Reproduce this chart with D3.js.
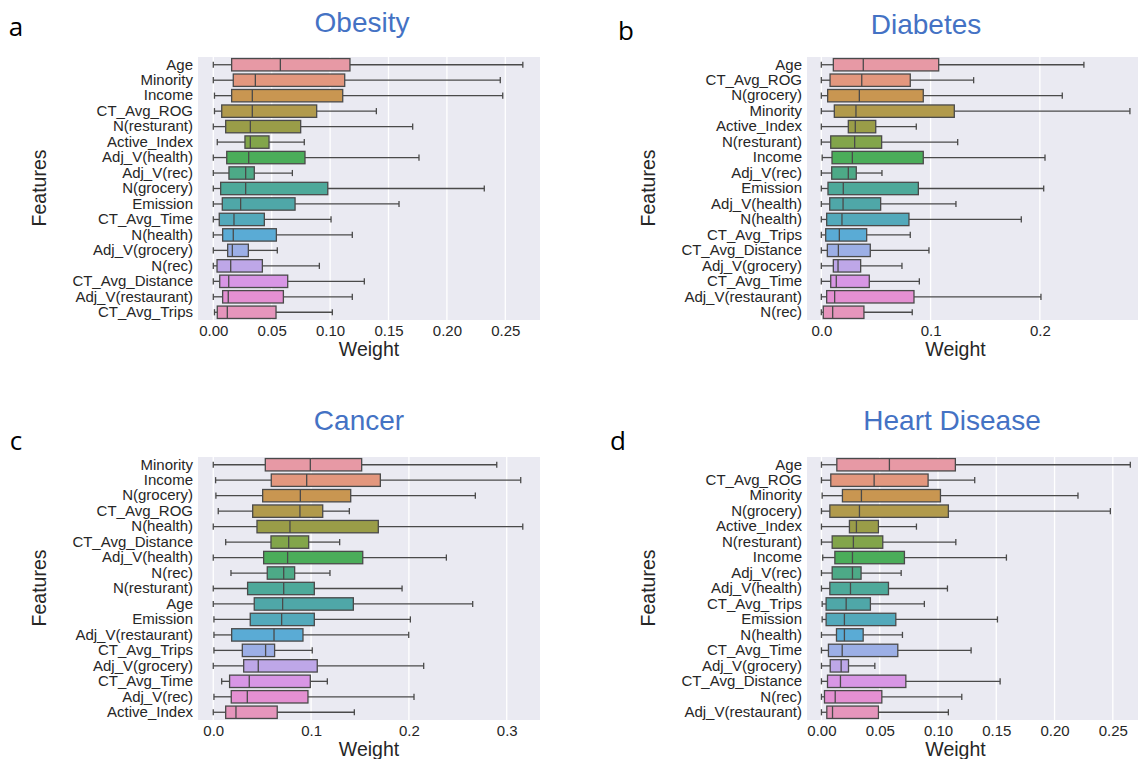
<!DOCTYPE html>
<html>
<head>
<meta charset="utf-8">
<script src="https://cdn.jsdelivr.net/npm/d3@7"></script>
<style>
  body { margin: 0; background: #fff; }
  svg text { font-family: "Liberation Sans", Arial, sans-serif; }
</style>
</head>
<body>
<svg id="chart" width="1138" height="759"></svg>
<script>
// feature order (top to bottom) for each panel
const obesityFeatures = ["Age", "Minority", "Income", "CT_Avg_ROG", "N(resturant)", "Active_Index",
  "Adj_V(health)", "Adj_V(rec)", "N(grocery)", "Emission", "CT_Avg_Time", "N(health)",
  "Adj_V(grocery)", "N(rec)", "CT_Avg_Distance", "Adj_V(restaurant)", "CT_Avg_Trips"];
const diabetesFeatures = ["Age", "CT_Avg_ROG", "N(grocery)", "Minority", "Active_Index", "N(resturant)",
  "Income", "Adj_V(rec)", "Emission", "Adj_V(health)", "N(health)", "CT_Avg_Trips",
  "CT_Avg_Distance", "Adj_V(grocery)", "CT_Avg_Time", "Adj_V(restaurant)", "N(rec)"];
const cancerFeatures = ["Minority", "Income", "N(grocery)", "CT_Avg_ROG", "N(health)", "CT_Avg_Distance",
  "Adj_V(health)", "N(rec)", "N(resturant)", "Age", "Emission", "Adj_V(restaurant)",
  "CT_Avg_Trips", "Adj_V(grocery)", "CT_Avg_Time", "Adj_V(rec)", "Active_Index"];
const heartFeatures = ["Age", "CT_Avg_ROG", "Minority", "N(grocery)", "Active_Index", "N(resturant)",
  "Income", "Adj_V(rec)", "Adj_V(health)", "CT_Avg_Trips", "Emission", "N(health)",
  "CT_Avg_Time", "Adj_V(grocery)", "CT_Avg_Distance", "N(rec)", "Adj_V(restaurant)"];

// [whisker low, Q1, median, Q3, whisker high]
const obesityStats = [
  [0.000, 0.0157, 0.0574, 0.117, 0.265],
  [0.000, 0.0171, 0.0360, 0.1125, 0.2457],
  [0.001, 0.0157, 0.0334, 0.1108, 0.2478],
  [0.001, 0.0072, 0.0334, 0.0885, 0.1396],
  [0.000, 0.0106, 0.0317, 0.0748, 0.1707],
  [0.0034, 0.0271, 0.0317, 0.0477, 0.0779],
  [0.000, 0.0115, 0.0303, 0.0785, 0.1761],
  [0.000, 0.0134, 0.0277, 0.0351, 0.0677],
  [0.000, 0.0063, 0.0277, 0.0980, 0.2320],
  [0.000, 0.0077, 0.0234, 0.0700, 0.1590],
  [0.000, 0.0051, 0.0177, 0.0437, 0.1008],
  [0.000, 0.0080, 0.0171, 0.0540, 0.1190],
  [0.000, 0.0123, 0.0163, 0.0300, 0.0548],
  [0.000, 0.0032, 0.0149, 0.0420, 0.0908],
  [0.000, 0.0055, 0.0132, 0.0637, 0.1293],
  [0.000, 0.0080, 0.0128, 0.0600, 0.1190],
  [0.001, 0.0034, 0.0120, 0.0537, 0.1019]
];
const diabetesStats = [
  [0.000, 0.0110, 0.0384, 0.1074, 0.2403],
  [0.000, 0.0080, 0.0370, 0.0814, 0.1394],
  [0.000, 0.0058, 0.0348, 0.0933, 0.2205],
  [0.000, 0.0119, 0.0317, 0.1217, 0.2824],
  [0.000, 0.0247, 0.0311, 0.0498, 0.0869],
  [0.000, 0.0086, 0.0305, 0.0552, 0.1248],
  [0.0008, 0.0098, 0.0284, 0.0933, 0.2047],
  [0.000, 0.0095, 0.0247, 0.0320, 0.0555],
  [0.000, 0.0061, 0.0201, 0.0888, 0.2035],
  [0.000, 0.0077, 0.0199, 0.0543, 0.1232],
  [0.000, 0.0049, 0.0189, 0.0802, 0.1830],
  [0.000, 0.0040, 0.0165, 0.0415, 0.0814],
  [0.000, 0.0055, 0.0156, 0.0448, 0.0985],
  [0.000, 0.0110, 0.0153, 0.0360, 0.0738],
  [0.000, 0.0086, 0.0137, 0.0439, 0.0897],
  [0.000, 0.0049, 0.0122, 0.0848, 0.2010],
  [0.000, 0.0018, 0.0104, 0.0390, 0.0832]
];
const cancerStats = [
  [0.000, 0.0532, 0.0992, 0.1517, 0.2898],
  [0.0024, 0.0593, 0.0955, 0.1708, 0.3143],
  [0.0027, 0.0505, 0.0890, 0.1405, 0.2679],
  [0.0051, 0.0403, 0.0886, 0.1119, 0.1391],
  [0.000, 0.0447, 0.0784, 0.1687, 0.3164],
  [0.0127, 0.0590, 0.0771, 0.0975, 0.1292],
  [0.000, 0.0515, 0.0760, 0.1528, 0.2383],
  [0.0181, 0.0552, 0.0720, 0.0832, 0.1193],
  [0.000, 0.0351, 0.0720, 0.1033, 0.1930],
  [0.000, 0.0419, 0.0709, 0.1432, 0.2652],
  [0.0007, 0.0378, 0.0699, 0.1033, 0.2015],
  [0.0007, 0.0188, 0.0621, 0.0917, 0.1998],
  [0.0007, 0.0297, 0.0535, 0.0627, 0.1012],
  [0.000, 0.0311, 0.0460, 0.1063, 0.2151],
  [0.0086, 0.0167, 0.0368, 0.0992, 0.1166],
  [0.0007, 0.0184, 0.0348, 0.0968, 0.2052],
  [0.000, 0.0127, 0.0232, 0.0654, 0.1442]
];
const heartStats = [
  [0.000, 0.0132, 0.0583, 0.1149, 0.2650],
  [0.000, 0.0080, 0.0452, 0.0915, 0.1315],
  [0.0006, 0.0180, 0.0343, 0.1021, 0.2201],
  [0.000, 0.0072, 0.0326, 0.1089, 0.2479],
  [0.000, 0.0240, 0.0300, 0.0489, 0.0815],
  [0.000, 0.0092, 0.0274, 0.0526, 0.1153],
  [0.0011, 0.0115, 0.0266, 0.0712, 0.1587],
  [0.000, 0.0092, 0.0266, 0.0340, 0.0684],
  [0.000, 0.0072, 0.0249, 0.0575, 0.1081],
  [0.0006, 0.0040, 0.0212, 0.0420, 0.0883],
  [0.0006, 0.0040, 0.0197, 0.0638, 0.1510],
  [0.000, 0.0129, 0.0197, 0.0358, 0.0695],
  [0.000, 0.0060, 0.0178, 0.0655, 0.1284],
  [0.000, 0.0075, 0.0169, 0.0232, 0.0458],
  [0.000, 0.0052, 0.0163, 0.0724, 0.1533],
  [0.000, 0.0026, 0.0118, 0.0518, 0.1204],
  [0.000, 0.0046, 0.0095, 0.0489, 0.1089]
];

const obesityTicks = [0, 0.05, 0.10, 0.15, 0.20, 0.25];
const diabetesTicks = [0, 0.1, 0.2];
const cancerTicks = [0, 0.1, 0.2, 0.3];
const heartTicks = [0, 0.05, 0.10, 0.15, 0.20, 0.25];

// seaborn-like husl palette, desaturated a bit like sns.boxplot
const M = [[3.240969941904521, -1.537383177570093, -0.498610760293],
  [-0.96924363628087, 1.87596750150772, 0.041555057407175],
  [0.055630079696993, -0.20397695888897, 1.056971514242878]];
const kappa = 903.2962962, eps = 0.0088564516, refU = 0.19783000664283, refV = 0.46831999493879;

function maxChroma(L, H) {
  const hrad = H / 360 * 2 * Math.PI;
  const sub1 = Math.pow(L + 16, 3) / 1560896;
  const sub2 = sub1 > eps ? sub1 : L / kappa;
  let best = Infinity;
  M.forEach(([m1, m2, m3]) => {
    [0, 1].forEach((t) => {
      const top1 = (284517 * m1 - 94839 * m3) * sub2;
      const top2 = (838422 * m3 + 769860 * m2 + 731718 * m1) * L * sub2 - 769860 * t * L;
      const bottom = (632260 * m3 - 126452 * m2) * sub2 + 126452 * t;
      const len = (top2 / bottom) / (Math.sin(hrad) - (top1 / bottom) * Math.cos(hrad));
      if (len > 0) best = Math.min(best, len);
    });
  });
  return best;
}

function huslToRgb(H, S, L) {
  const C = maxChroma(L, H) / 100 * S;
  const hr = H / 180 * Math.PI;
  const U = C * Math.cos(hr), V = C * Math.sin(hr);
  const Y = L > 8 ? Math.pow((L + 16) / 116, 3) : L / kappa;
  const vu = U / (13 * L) + refU, vv = V / (13 * L) + refV;
  const X = -(9 * Y * vu) / ((vu - 4) * vv - vu * vv);
  const Z = (9 * Y - 15 * vv * Y - vv * X) / (3 * vv);
  const lin = (c) => (c <= 0.0031308 ? 12.92 * c : 1.055 * Math.pow(c, 1 / 2.4) - 0.055);
  return M.map((r) => Math.max(0, Math.min(1, lin(r[0] * X + r[1] * Y + r[2] * Z))));
}

function huslPalette(n) {
  return d3.range(n).map((i) => {
    const h = ((i / n + 0.01) % 1) * 359;
    const [r, g, b] = huslToRgb(h, 0.9 * 99, 0.7 * 99);
    const c = d3.hsl(d3.rgb(r * 255, g * 255, b * 255));
    c.s *= 0.7;
    return c;
  });
}

const palette = huslPalette(17);
const gray = "#4a4a4a";

const svg = d3.select("#chart");

// geometry: pixel box of each plot area
const panels = [
  { letter: "a", title: "Obesity", features: obesityFeatures, stats: obesityStats, ticks: obesityTicks, fmt: ".2f",
    left: 198, right: 540, top: 57, bottom: 320, domain: [-0.0131, 0.2797],
    letterPos: [16, 36], titlePos: [362, 32], featPos: [46, 188] },
  { letter: "b", title: "Diabetes", features: diabetesFeatures, stats: diabetesStats, ticks: diabetesTicks, fmt: ".1f",
    left: 807, right: 1138, top: 57, bottom: 320, domain: [-0.0131, 0.2898],
    letterPos: [626, 40], titlePos: [926, 34], featPos: [655, 188] },
  { letter: "c", title: "Cancer", features: cancerFeatures, stats: cancerStats, ticks: cancerTicks, fmt: ".1f",
    left: 198, right: 540, top: 457, bottom: 720, domain: [-0.0156, 0.334],
    letterPos: [16, 450], titlePos: [359, 430], featPos: [46, 588] },
  { letter: "d", title: "Heart Disease", features: heartFeatures, stats: heartStats, ticks: heartTicks, fmt: ".2f",
    left: 807, right: 1138, top: 457, bottom: 720, domain: [-0.0124, 0.2716],
    letterPos: [618, 450], titlePos: [952, 430], featPos: [655, 588] }
];

function drawPanel(p) {
  const x = d3.scaleLinear().domain(p.domain).range([p.left, p.right]);
  const y = d3.scaleBand().domain(p.features).range([p.top, p.bottom]);
  const g = svg.append("g");

  g.append("rect")
    .attr("x", p.left).attr("y", p.top)
    .attr("width", p.right - p.left).attr("height", p.bottom - p.top)
    .attr("fill", "#eaeaf2");

  // white vertical grid
  g.selectAll(".grid")
    .data(p.ticks)
    .enter()
    .append("line")
    .attr("x1", (d) => x(d)).attr("x2", (d) => x(d))
    .attr("y1", p.top).attr("y2", p.bottom)
    .style("stroke", "#fff")
    .style("stroke-width", 1.3);

  const bw = y.bandwidth() * 0.8;
  const cw = y.bandwidth() * 0.4;
  const rows = p.features.map((f, i) => ({ f, i, s: p.stats[i] }));

  const box = g.selectAll(".box").data(rows).enter().append("g");
  const cy = (d) => y(d.f) + y.bandwidth() / 2;

  // whiskers
  box.append("line")
    .attr("x1", (d) => x(d.s[0])).attr("x2", (d) => x(d.s[1]))
    .attr("y1", cy).attr("y2", cy);
  box.append("line")
    .attr("x1", (d) => x(d.s[3])).attr("x2", (d) => x(d.s[4]))
    .attr("y1", cy).attr("y2", cy);
  // caps
  [0, 4].forEach((k) => {
    box.append("line")
      .attr("x1", (d) => x(d.s[k])).attr("x2", (d) => x(d.s[k]))
      .attr("y1", (d) => cy(d) - cw / 2).attr("y2", (d) => cy(d) + cw / 2);
  });
  box.selectAll("line").style("stroke", gray).style("stroke-width", 1.3);

  box.append("rect")
    .attr("x", (d) => x(d.s[1]))
    .attr("y", (d) => cy(d) - bw / 2)
    .attr("width", (d) => x(d.s[3]) - x(d.s[1]))
    .attr("height", bw)
    .style("fill", (d) => palette[d.i])
    .style("stroke", gray)
    .style("stroke-width", 1.3);

  box.append("line")
    .attr("x1", (d) => x(d.s[2])).attr("x2", (d) => x(d.s[2]))
    .attr("y1", (d) => cy(d) - bw / 2).attr("y2", (d) => cy(d) + bw / 2)
    .style("stroke", gray)
    .style("stroke-width", 1.3);

  // axes
  const xAxis = g.append("g")
    .attr("transform", `translate(0,${p.bottom})`)
    .call(d3.axisBottom(x).tickValues(p.ticks).tickFormat(d3.format(p.fmt)).tickSize(0).tickPadding(5));
  const yAxis = g.append("g")
    .attr("transform", `translate(${p.left},0)`)
    .call(d3.axisLeft(y).tickSize(0).tickPadding(5));
  [xAxis, yAxis].forEach((a) => {
    a.select(".domain").remove();
    a.selectAll("text").style("font-size", "15px").style("fill", "#262626")
      .style("font-family", "'Liberation Sans', Arial, sans-serif");
  });

  g.append("text")
    .attr("x", (p.left + p.right) / 2 + (p.right > 1000 ? -17 : 0))
    .attr("y", p.bottom + 36)
    .attr("text-anchor", "middle")
    .style("font-size", "19.5px")
    .style("fill", "#262626")
    .text("Weight");

  g.append("text")
    .attr("transform", `translate(${p.featPos[0]},${p.featPos[1]}) rotate(-90)`)
    .attr("text-anchor", "middle")
    .style("font-size", "19.5px")
    .style("fill", "#262626")
    .text("Features");

  g.append("text")
    .attr("x", p.titlePos[0]).attr("y", p.titlePos[1])
    .attr("text-anchor", "middle")
    .style("font-size", "28px")
    .style("fill", "#4472c4")
    .text(p.title);

  g.append("text")
    .attr("x", p.letterPos[0]).attr("y", p.letterPos[1])
    .attr("text-anchor", "middle")
    .style("font-size", "26px")
    .style("font-family", "'Open Sans', sans-serif")
    .style("fill", "#000")
    .text(p.letter);
}

panels.forEach(drawPanel);
</script>
</body>
</html>
